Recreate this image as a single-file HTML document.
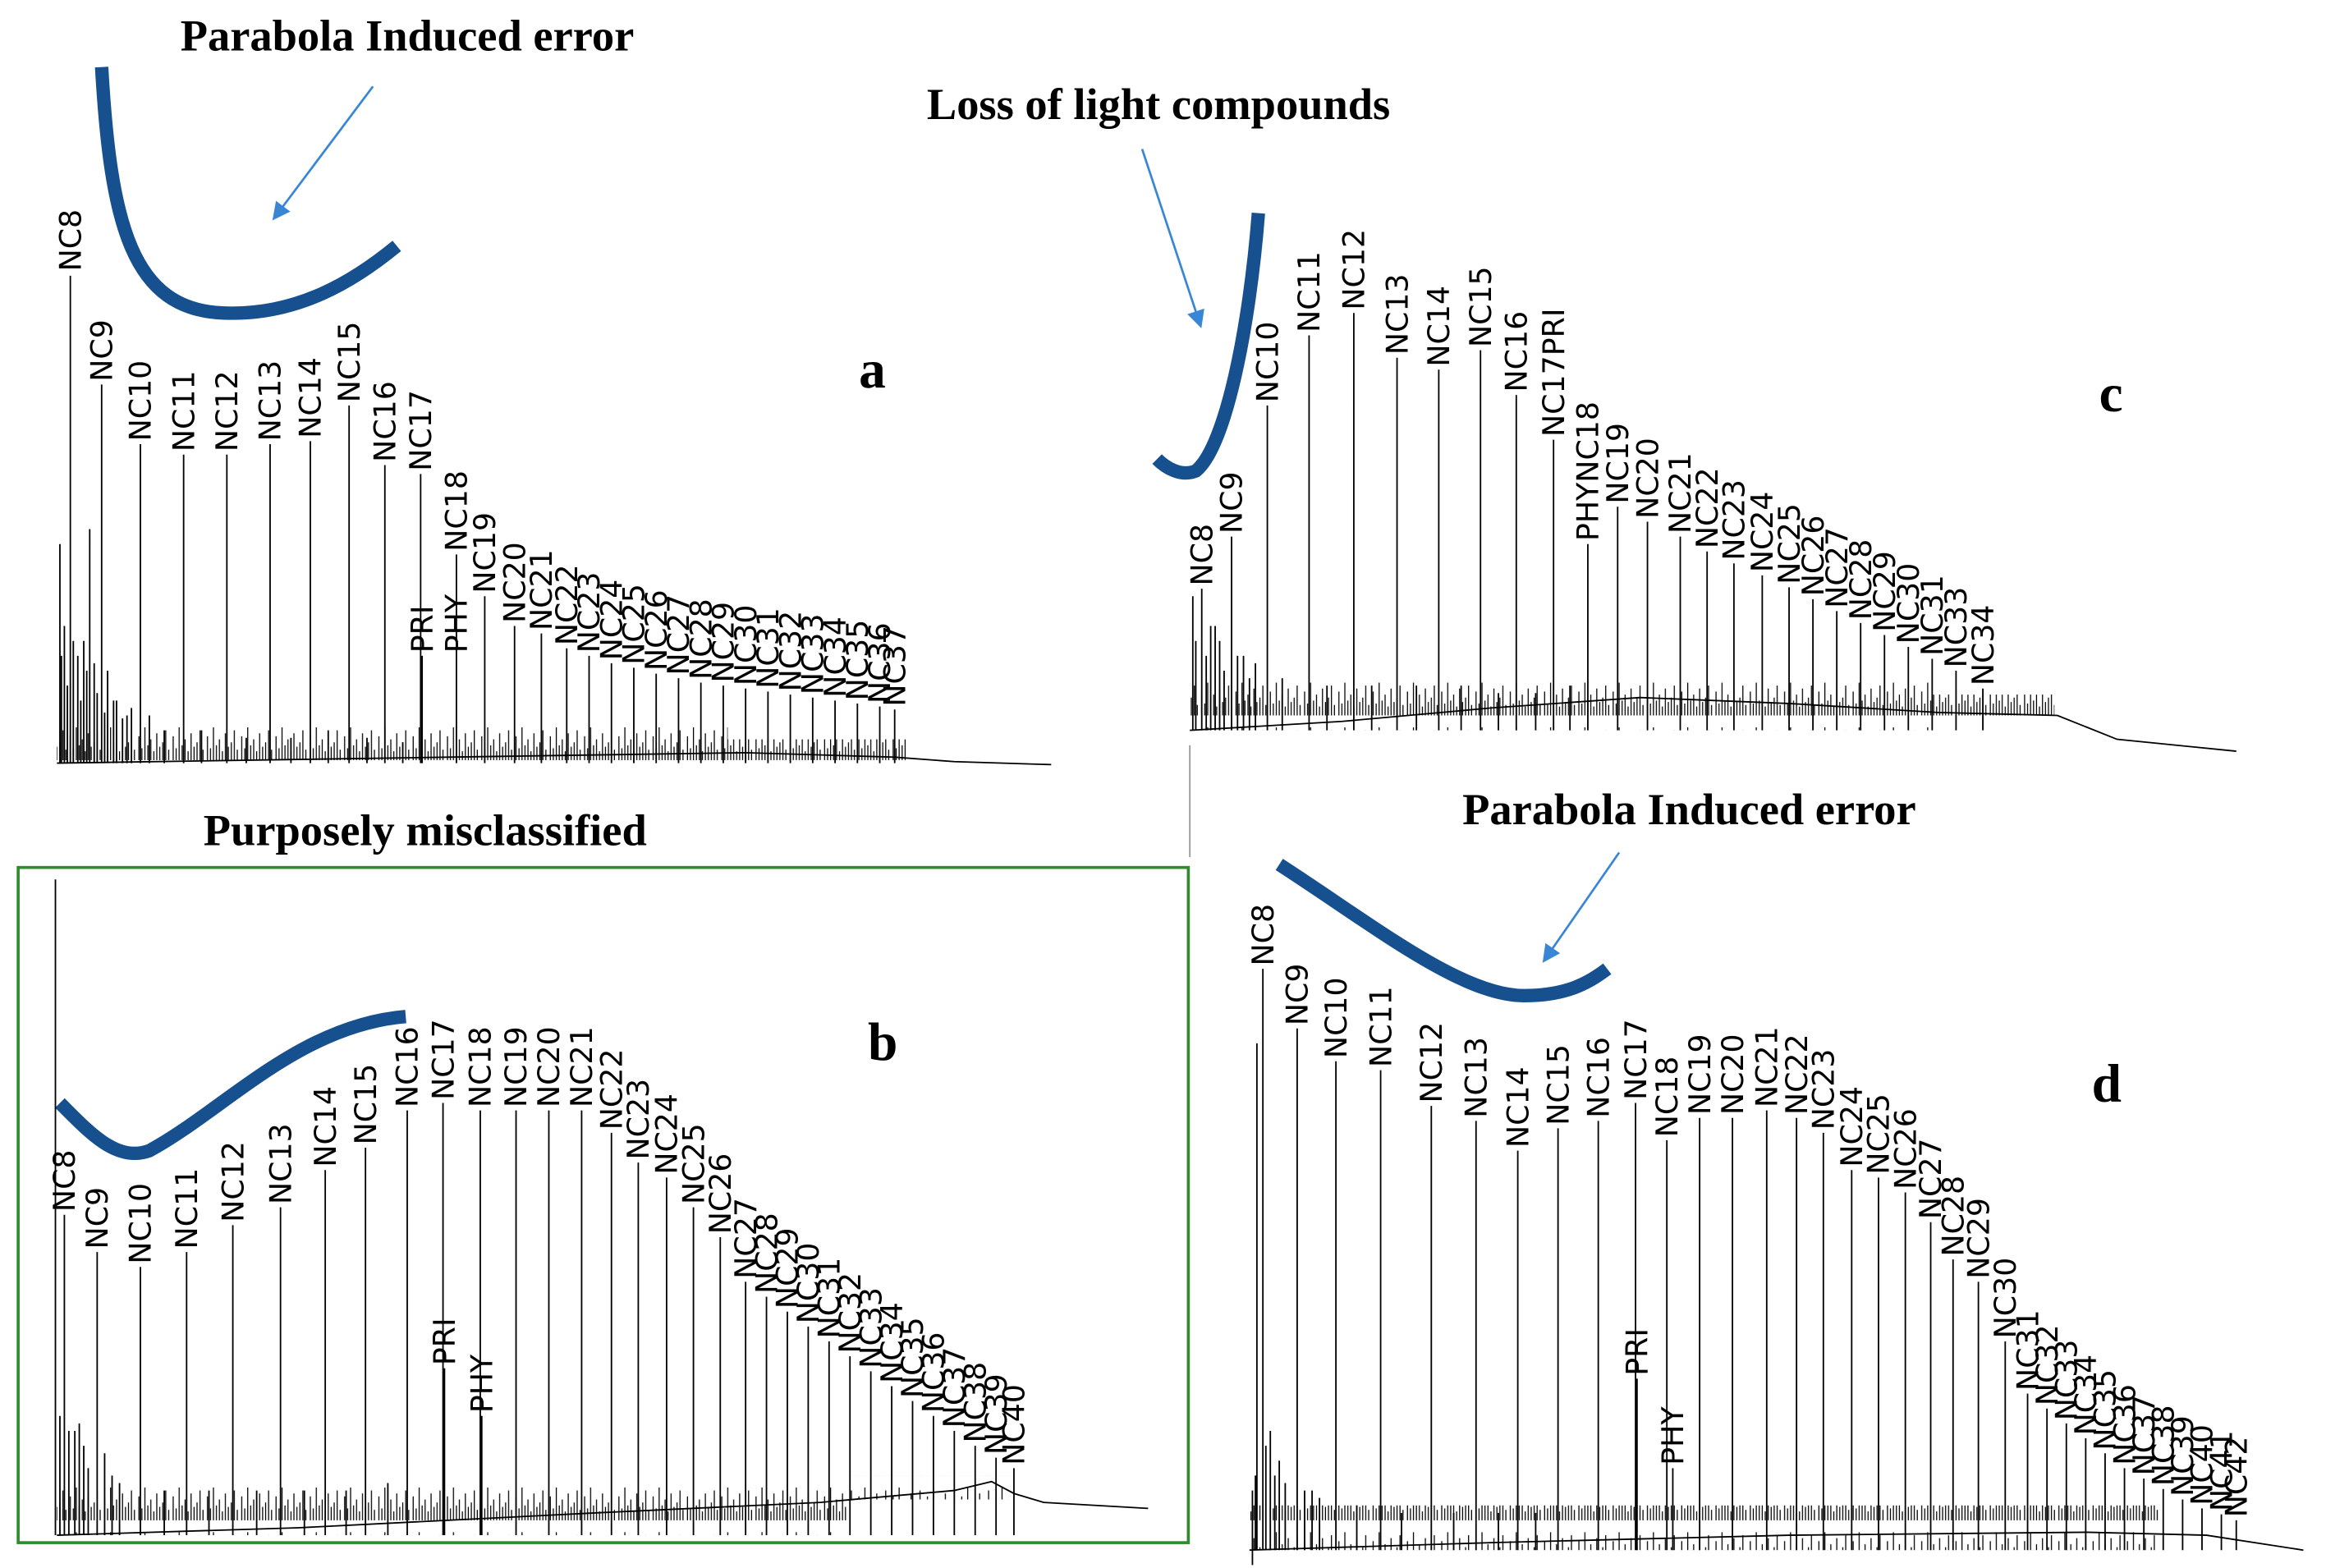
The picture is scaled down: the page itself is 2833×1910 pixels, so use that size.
<!DOCTYPE html>
<html><head><meta charset="utf-8"><style>
html,body{margin:0;padding:0;background:#fff;}
svg{display:block;}
.l{font-family:"DejaVu Sans","Liberation Sans",sans-serif;font-size:20px;fill:#000;}
.t{font-family:"Liberation Serif",serif;font-weight:bold;font-size:30px;fill:#000;}
.p{font-family:"Liberation Serif",serif;font-weight:bold;font-size:36px;fill:#000;}
.k{stroke:#000;stroke-width:1;fill:none;}
.c{stroke:#17508f;stroke-width:9;fill:none;stroke-linecap:butt;}
.a{stroke:#3a86d6;stroke-width:1.5;fill:none;}
</style></head><body>
<svg width="2833" height="1910" viewBox="0 0 1560 1052" xmlns="http://www.w3.org/2000/svg">
<defs><marker id="ar" viewBox="0 0 10 10" refX="8" refY="5" markerWidth="8" markerHeight="8" orient="auto"><path d="M0,0 L10,5 L0,10 z" fill="#3a86d6"/></marker>
<pattern id="nz" x="0" y="0" width="23" height="30" patternUnits="userSpaceOnUse">
<path d="M1,30V14M3,30V22M5,30V8M7,30V20M9,30V16M11,30V24M13,30V12M15,30V21M17,30V18M19,30V10M21,30V23" stroke="#000" stroke-width="0.7"/>
</pattern>
</defs>

<text class="t" x="273" y="34" text-anchor="middle">Parabola Induced error</text>
<text class="t" x="777" y="80" text-anchor="middle">Loss of light compounds</text>
<text class="t" x="285" y="567" text-anchor="middle">Purposely misclassified</text>
<text class="t" x="1133" y="553" text-anchor="middle">Parabola Induced error</text>
<text class="p" x="576" y="260">a</text>
<text class="p" x="1408" y="276">c</text>
<text class="p" x="582" y="711">b</text>
<text class="p" x="1403" y="739">d</text>

<line x1="798" y1="500" x2="798" y2="575" stroke="#999" stroke-width="1"/>
<rect x="12" y="582" width="785" height="453" fill="none" stroke="#2e8b2e" stroke-width="2"/>

<!-- noise -->
<rect x="38" y="484" width="450" height="28" fill="url(#nz)"/>
<rect x="488" y="496" width="120" height="14" fill="url(#nz)"/>
<rect x="798" y="458" width="500" height="32" fill="url(#nz)"/>
<rect x="1298" y="466" width="80" height="16" fill="url(#nz)"/>
<rect x="38" y="995" width="530" height="35" fill="url(#nz)"/>
<rect x="568" y="990" width="110" height="16" fill="url(#nz)"/>
<rect x="838" y="1010" width="610" height="30" fill="url(#nz)"/>
<path class="k" d="M41,512V440M45,512V460M49,512V430M54,512V470M58,512V450M65,512V465M70,512V478M76,512V470M82,512V482M88,512V475M802,490V430M809,490V440M815,490V420M821,490V450M830,490V440M838,490V455M40,1030V950M46,1030V960M53,1030V955M59,1030V985M70,1030V975M80,1030V995M842,1040V990M849,1040V970M855,1040V990M862,1040V995M875,1040V1000M885,1040V1005"/>

<!-- curves -->
<path class="c" d="M68,45 C74,150 88,208 150,210 C200,212 238,188 266,165"/>
<path class="c" d="M844,143 C838,220 822,300 802,316 C792,320 782,314 776,308"/>
<path class="c" d="M40,740 C60,760 78,780 100,772 C150,745 200,688 272,682"/>
<path class="c" d="M858,580 C920,620 980,668 1022,668 C1050,668 1065,660 1078,650"/>
<line class="a" x1="250" y1="58" x2="184" y2="146" marker-end="url(#ar)"/>
<line class="a" x1="766" y1="100" x2="805" y2="218" marker-end="url(#ar)"/>
<line class="a" x1="1086" y1="572" x2="1036" y2="644" marker-end="url(#ar)"/>

<!-- Panel a -->
<polyline class="k" points="38,512 300,508 500,505 600,508 640,511 705,513"/>
<path class="k" d="M40,512V365M43,512V420M47,512V185M52,512V440M56,512V430M60,512V355M63,512V445M68,512V258M72,512V450M78,512V470M85,512V480M94,512V298M100,512V480M110,512V490M123,512V305M135,512V490M152,512V305M165,512V495M181,512V298M195,512V495M208,512V296M220,512V490M234,512V272M246,512V495M258,512V312M270,512V498M282,512V318M283,512V440M306,512V372M325,512V400M345,512V420M363,512V425M380,512V435M395,512V440M410,512V445M425,512V448M440,512V452M455,512V455M470,512V458M485,512V460M500,512V462M515,512V464M530,512V466M545,512V468M560,512V470M575,512V472M590,512V474M600,512V476"/>
<g class="l">
<text transform="translate(54,182) rotate(-90)">NC8</text>
<text transform="translate(75,256) rotate(-90)">NC9</text>
<text transform="translate(101,296) rotate(-90)">NC10</text>
<text transform="translate(130,303) rotate(-90)">NC11</text>
<text transform="translate(159,303) rotate(-90)">NC12</text>
<text transform="translate(188,296) rotate(-90)">NC13</text>
<text transform="translate(215,294) rotate(-90)">NC14</text>
<text transform="translate(241,270) rotate(-90)">NC15</text>
<text transform="translate(265,310) rotate(-90)">NC16</text>
<text transform="translate(289,316) rotate(-90)">NC17</text>
<text transform="translate(290,438) rotate(-90)">PRI</text>
<text transform="translate(313,438) rotate(-90)">PHY</text>
<text transform="translate(313,370) rotate(-90)">NC18</text>
<text transform="translate(332,398) rotate(-90)">NC19</text>
<text transform="translate(352,418) rotate(-90)">NC20</text>
<text transform="translate(370,423) rotate(-90)">NC21</text>
<text transform="translate(387,433) rotate(-90)">NC22</text>
<text transform="translate(402,438) rotate(-90)">NC23</text>
<text transform="translate(417,443) rotate(-90)">NC24</text>
<text transform="translate(432,446) rotate(-90)">NC25</text>
<text transform="translate(447,450) rotate(-90)">NC26</text>
<text transform="translate(462,453) rotate(-90)">NC27</text>
<text transform="translate(477,456) rotate(-90)">NC28</text>
<text transform="translate(492,458) rotate(-90)">NC29</text>
<text transform="translate(507,460) rotate(-90)">NC30</text>
<text transform="translate(522,462) rotate(-90)">NC31</text>
<text transform="translate(537,464) rotate(-90)">NC32</text>
<text transform="translate(552,466) rotate(-90)">NC33</text>
<text transform="translate(567,468) rotate(-90)">NC34</text>
<text transform="translate(582,470) rotate(-90)">NC35</text>
<text transform="translate(597,472) rotate(-90)">NC36</text>
<text transform="translate(607,474) rotate(-90)">NC37</text>
</g>

<!-- Panel c -->
<polyline class="k" points="798,490 900,484 1000,475 1100,468 1200,472 1300,478 1380,480 1400,488 1420,496 1500,504"/>
<path class="k" d="M800,490V400M806,490V395M812,490V420M818,490V430M826,490V360M834,490V440M842,490V445M850,490V272M860,490V455M878,490V225M890,490V460M908,490V210M920,490V460M937,490V240M950,490V460M965,490V248M980,490V460M993,490V235M1005,490V465M1017,490V265M1030,490V465M1042,490V295M1053,490V460M1065,490V365M1085,490V340M1105,490V350M1127,490V360M1145,490V370M1163,490V378M1182,490V386M1200,490V394M1216,490V402M1232,490V410M1248,490V418M1264,490V426M1280,490V434M1296,490V442M1312,490V450M1330,490V462"/>
<g class="l">
<text transform="translate(813,393) rotate(-90)">NC8</text>
<text transform="translate(833,358) rotate(-90)">NC9</text>
<text transform="translate(857,270) rotate(-90)">NC10</text>
<text transform="translate(885,223) rotate(-90)">NC11</text>
<text transform="translate(915,208) rotate(-90)">NC12</text>
<text transform="translate(944,238) rotate(-90)">NC13</text>
<text transform="translate(972,246) rotate(-90)">NC14</text>
<text transform="translate(1000,233) rotate(-90)">NC15</text>
<text transform="translate(1024,263) rotate(-90)">NC16</text>
<text transform="translate(1049,293) rotate(-90)">NC17PRI</text>
<text transform="translate(1072,363) rotate(-90)">PHYNC18</text>
<text transform="translate(1092,338) rotate(-90)">NC19</text>
<text transform="translate(1112,348) rotate(-90)">NC20</text>
<text transform="translate(1134,358) rotate(-90)">NC21</text>
<text transform="translate(1152,368) rotate(-90)">NC22</text>
<text transform="translate(1170,376) rotate(-90)">NC23</text>
<text transform="translate(1189,384) rotate(-90)">NC24</text>
<text transform="translate(1207,392) rotate(-90)">NC25</text>
<text transform="translate(1223,400) rotate(-90)">NC26</text>
<text transform="translate(1239,408) rotate(-90)">NC27</text>
<text transform="translate(1255,416) rotate(-90)">NC28</text>
<text transform="translate(1271,424) rotate(-90)">NC29</text>
<text transform="translate(1287,432) rotate(-90)">NC30</text>
<text transform="translate(1303,440) rotate(-90)">NC31</text>
<text transform="translate(1319,448) rotate(-90)">NC33</text>
<text transform="translate(1337,460) rotate(-90)">NC34</text>
</g>

<!-- Panel b -->
<polyline class="k" points="38,1030 200,1025 400,1015 550,1008 640,1000 665,994 680,1002 700,1008 770,1012"/>
<path class="k" d="M37,1030V590M43,1030V815M50,1030V960M56,1030V970M65,1030V840M75,1030V990M94,1030V850M110,1030V1000M125,1030V840M140,1030V1000M156,1030V822M172,1030V1000M188,1030V810M204,1030V1000M218,1030V785M232,1030V1000M245,1030V770M260,1030V995M273,1030V745M297,1030V740M298,1030V918M322,1030V745M323,1030V950M346,1030V745M368,1030V745M390,1030V745M410,1030V760M428,1030V780M447,1030V790M465,1030V810M483,1030V830M500,1030V860M514,1030V870M528,1030V880M542,1030V890M556,1030V900M570,1030V910M584,1030V920M598,1030V930M612,1030V940M626,1030V950M640,1030V960M654,1030V970M668,1030V978M680,1030V985"/>
<g class="l">
<text transform="translate(50,813) rotate(-90)">NC8</text>
<text transform="translate(72,838) rotate(-90)">NC9</text>
<text transform="translate(101,848) rotate(-90)">NC10</text>
<text transform="translate(132,838) rotate(-90)">NC11</text>
<text transform="translate(163,820) rotate(-90)">NC12</text>
<text transform="translate(195,808) rotate(-90)">NC13</text>
<text transform="translate(225,783) rotate(-90)">NC14</text>
<text transform="translate(252,768) rotate(-90)">NC15</text>
<text transform="translate(280,743) rotate(-90)">NC16</text>
<text transform="translate(304,738) rotate(-90)">NC17</text>
<text transform="translate(305,916) rotate(-90)">PRI</text>
<text transform="translate(330,948) rotate(-90)">PHY</text>
<text transform="translate(329,743) rotate(-90)">NC18</text>
<text transform="translate(353,743) rotate(-90)">NC19</text>
<text transform="translate(375,743) rotate(-90)">NC20</text>
<text transform="translate(397,743) rotate(-90)">NC21</text>
<text transform="translate(417,758) rotate(-90)">NC22</text>
<text transform="translate(435,778) rotate(-90)">NC23</text>
<text transform="translate(454,788) rotate(-90)">NC24</text>
<text transform="translate(472,808) rotate(-90)">NC25</text>
<text transform="translate(490,828) rotate(-90)">NC26</text>
<text transform="translate(507,858) rotate(-90)">NC27</text>
<text transform="translate(521,868) rotate(-90)">NC28</text>
<text transform="translate(535,878) rotate(-90)">NC29</text>
<text transform="translate(549,888) rotate(-90)">NC30</text>
<text transform="translate(563,898) rotate(-90)">NC31</text>
<text transform="translate(577,908) rotate(-90)">NC32</text>
<text transform="translate(591,918) rotate(-90)">NC33</text>
<text transform="translate(605,928) rotate(-90)">NC34</text>
<text transform="translate(619,938) rotate(-90)">NC35</text>
<text transform="translate(633,948) rotate(-90)">NC36</text>
<text transform="translate(647,958) rotate(-90)">NC37</text>
<text transform="translate(661,968) rotate(-90)">NC38</text>
<text transform="translate(675,976) rotate(-90)">NC39</text>
<text transform="translate(687,983) rotate(-90)">NC40</text>
</g>

<!-- Panel d -->
<polyline class="k" points="838,1040 1000,1035 1200,1030 1400,1028 1480,1030 1545,1040"/>
<line x1="840" y1="1050" x2="840" y2="1000" stroke="#000"/>
<path class="k" d="M843,1040V700M847,1040V650M852,1040V960M858,1040V980M870,1040V690M880,1040V1000M896,1040V712M910,1040V1010M926,1040V718M940,1040V1015M960,1040V742M975,1040V1015M990,1040V752M1005,1040V1015M1018,1040V772M1030,1040V1015M1045,1040V757M1072,1040V752M1097,1040V740M1098,1040V925M1118,1040V765M1122,1040V985M1140,1040V750M1162,1040V750M1185,1040V745M1205,1040V750M1223,1040V760M1242,1040V785M1260,1040V790M1278,1040V800M1295,1040V820M1310,1040V845M1327,1040V860M1345,1040V900M1360,1040V935M1373,1040V945M1386,1040V955M1399,1040V965M1412,1040V975M1425,1040V985M1438,1040V992M1451,1040V999M1464,1040V1006M1477,1040V1012M1490,1040V1016M1500,1040V1020"/>
<g class="l">
<text transform="translate(854,648) rotate(-90)">NC8</text>
<text transform="translate(877,688) rotate(-90)">NC9</text>
<text transform="translate(903,710) rotate(-90)">NC10</text>
<text transform="translate(933,716) rotate(-90)">NC11</text>
<text transform="translate(967,740) rotate(-90)">NC12</text>
<text transform="translate(997,750) rotate(-90)">NC13</text>
<text transform="translate(1025,770) rotate(-90)">NC14</text>
<text transform="translate(1052,755) rotate(-90)">NC15</text>
<text transform="translate(1079,750) rotate(-90)">NC16</text>
<text transform="translate(1104,738) rotate(-90)">NC17</text>
<text transform="translate(1105,923) rotate(-90)">PRI</text>
<text transform="translate(1129,983) rotate(-90)">PHY</text>
<text transform="translate(1125,763) rotate(-90)">NC18</text>
<text transform="translate(1147,748) rotate(-90)">NC19</text>
<text transform="translate(1169,748) rotate(-90)">NC20</text>
<text transform="translate(1192,743) rotate(-90)">NC21</text>
<text transform="translate(1212,748) rotate(-90)">NC22</text>
<text transform="translate(1230,758) rotate(-90)">NC23</text>
<text transform="translate(1249,783) rotate(-90)">NC24</text>
<text transform="translate(1267,788) rotate(-90)">NC25</text>
<text transform="translate(1285,798) rotate(-90)">NC26</text>
<text transform="translate(1302,818) rotate(-90)">NC27</text>
<text transform="translate(1317,843) rotate(-90)">NC28</text>
<text transform="translate(1334,858) rotate(-90)">NC29</text>
<text transform="translate(1352,898) rotate(-90)">NC30</text>
<text transform="translate(1367,933) rotate(-90)">NC31</text>
<text transform="translate(1380,943) rotate(-90)">NC32</text>
<text transform="translate(1393,953) rotate(-90)">NC33</text>
<text transform="translate(1406,963) rotate(-90)">NC34</text>
<text transform="translate(1419,973) rotate(-90)">NC35</text>
<text transform="translate(1432,983) rotate(-90)">NC36</text>
<text transform="translate(1445,990) rotate(-90)">NC37</text>
<text transform="translate(1458,997) rotate(-90)">NC38</text>
<text transform="translate(1471,1004) rotate(-90)">NC39</text>
<text transform="translate(1484,1010) rotate(-90)">NC40</text>
<text transform="translate(1497,1014) rotate(-90)">NC41</text>
<text transform="translate(1507,1018) rotate(-90)">NC42</text>
</g>
</svg>
</body></html>
